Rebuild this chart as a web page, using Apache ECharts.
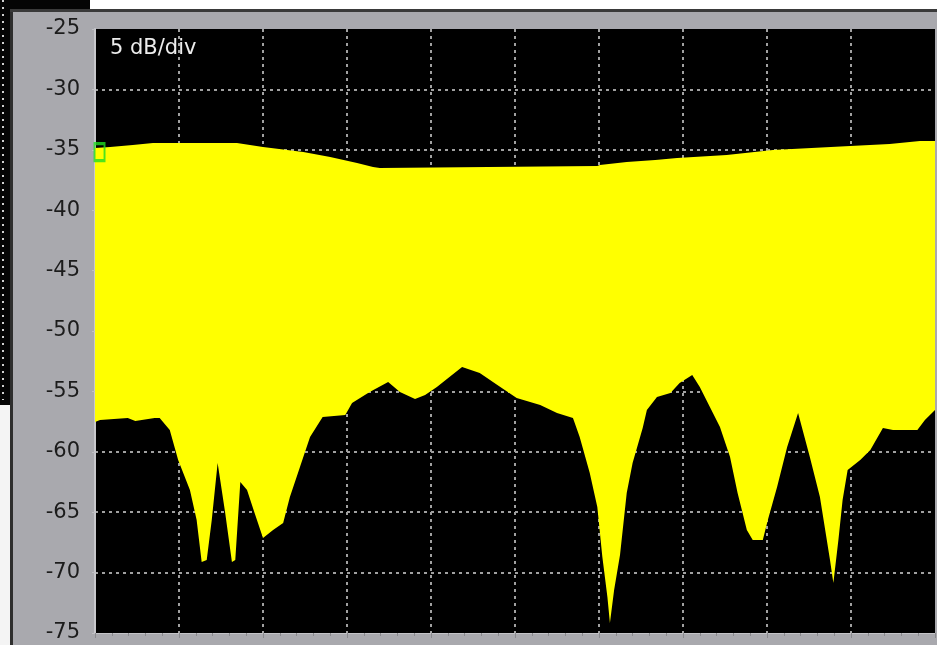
<!DOCTYPE html>
<html>
<head>
<meta charset="utf-8">
<script src="https://cdn.jsdelivr.net/npm/echarts@6/dist/echarts.min.js"></script>
<style>
	html, body { margin: 0; padding: 0; background: #a9a9ae; }
	#main { width: 937px; height: 645px; }
</style>
</head>
<body>
<div id="main"></div>
<script>
// 上包络 (max hold) - x 以格为单位 0..100 (10 格)
var upperX = [0, 1.8, 4.5, 6.9, 16.9, 20.0, 24.8, 28.0, 31.2, 33.1, 33.9, 59.8, 60.1, 63.3, 66.7, 69.3, 75.2, 80.7, 89.9, 94.6, 98.2, 100]
var upperDb = [-34.85, -34.77, -34.6, -34.44, -34.44, -34.77, -35.18, -35.6, -36.09, -36.42, -36.5, -36.34, -36.26, -36.0, -35.84, -35.68, -35.43, -35.02, -34.69, -34.52, -34.27, -34.27]

// 下包络 (min hold)
var lowerX = [0, 0.6, 3.9, 4.8, 7.1, 7.7, 8.9, 9.9, 11.3, 12.1, 12.7, 13.3, 13.9, 14.6, 15.5, 16.3, 16.7, 17.3, 18.1, 19.0, 20.0, 21.2, 22.4, 23.2, 24.4, 25.6, 27.1, 29.8, 30.6, 32.7, 34.9, 36.3, 38.1, 39.3, 40.7, 43.7, 45.8, 47.9, 50.2, 53.0, 55.0, 56.9, 57.7, 58.9, 59.8, 60.4, 61.0, 61.3, 61.8, 62.5, 63.3, 64.0, 65.2, 65.7, 66.9, 68.5, 69.6, 71.1, 72.0, 73.2, 74.4, 75.6, 76.5, 77.6, 78.3, 79.5, 80.1, 81.2, 82.4, 83.7, 85.1, 86.3, 87.5, 87.9, 88.5, 89.0, 89.6, 91.1, 92.3, 93.8, 95.0, 97.9, 98.8, 100]
var lowerDb = [-57.53, -57.36, -57.2, -57.45, -57.2, -57.2, -58.19, -60.68, -63.16, -65.65, -69.12, -68.96, -65.65, -60.93, -65.07, -69.12, -68.96, -62.5, -63.16, -65.07, -67.14, -66.47, -65.89, -63.74, -61.26, -58.77, -57.12, -56.95, -55.96, -55.05, -54.22, -55.05, -55.63, -55.3, -54.64, -52.98, -53.48, -54.47, -55.55, -56.13, -56.79, -57.2, -58.77, -61.75, -64.57, -68.71, -72.02, -74.17, -71.44, -68.54, -63.41, -60.93, -58.03, -56.54, -55.46, -55.13, -54.3, -53.64, -54.64, -56.29, -57.95, -60.43, -63.41, -66.47, -67.3, -67.3, -65.65, -62.91, -59.6, -56.79, -60.43, -63.74, -68.96, -70.86, -67.3, -63.99, -61.51, -60.68, -59.85, -58.03, -58.2, -58.2, -57.37, -56.54]

// 标记点
var markerPoint = [[0.54, -35.2]]

var chartDom = document.getElementById('main')
var chart = echarts.init(chartDom)

// 黄色带: 上包络 + 反向的下包络 组成多边形
function renderBand(params, api) {
	var pts = []
	for (var i = 0; i < upperX.length; i++) {
		pts.push(api.coord([upperX[i], upperDb[i]]))
	}
	for (var j = lowerX.length - 1; j >= 0; j--) {
		pts.push(api.coord([lowerX[j], lowerDb[j]]))
	}
	return {
		type: 'polygon',
		shape: { points: pts },
		style: { fill: '#ffff00' }
	}
}

var gridLine = {
	show: true,
	showMinLine: false,
	showMaxLine: false,
	lineStyle: { color: '#a0a0a0', width: 2, type: [3, 4] }
}

var option = {
	backgroundColor: '#a9a9ae',
	animation: false,
	title: {
		text: '5 dB/div',
		left: 105,
		top: 33,
		textStyle: {
			color: '#ececec',
			fontFamily: 'DejaVu Sans',
			fontSize: 21,
			fontWeight: 'normal'
		}
	},
	// 窗口边框
	graphic: [
		{ type: 'rect', shape: { x: 0, y: 0, width: 937, height: 9 }, style: { fill: '#ffffff' }, silent: true },
		{ type: 'rect', shape: { x: 0, y: 0, width: 90, height: 9 }, style: { fill: '#050505' }, silent: true },
		{ type: 'rect', shape: { x: 0, y: 0, width: 10, height: 405 }, style: { fill: '#050505' }, silent: true },
		{ type: 'line', shape: { x1: 3, y1: 0, x2: 3, y2: 400 }, style: { stroke: '#d0d0d0', lineWidth: 2, lineDash: [2, 5] }, silent: true },
		{ type: 'rect', shape: { x: 0, y: 405, width: 10, height: 240 }, style: { fill: '#f4f4f4' }, silent: true },
		{ type: 'rect', shape: { x: 10, y: 9, width: 3, height: 636 }, style: { fill: '#2e2e2e' }, silent: true },
		{ type: 'rect', shape: { x: 10, y: 9, width: 927, height: 3 }, style: { fill: '#3a3a3a' }, silent: true }
	],
	grid: {
		left: 95,
		right: 2,
		top: 29,
		bottom: 12,
		show: true,
		backgroundColor: '#000000',
		borderWidth: 0
	},
	xAxis: {
		type: 'value',
		min: 0,
		max: 100,
		interval: 10,
		axisLine: { show: true, lineStyle: { color: '#c4c4c8', width: 1 } },
		axisTick: { show: true, length: 5, lineStyle: { color: '#8a8a8e' } },
		minorTick: { show: true, splitNumber: 5, length: 3, lineStyle: { color: '#8a8a8e' } },
		axisLabel: { show: false },
		splitLine: gridLine
	},
	yAxis: {
		type: 'value',
		min: -75,
		max: -25,
		interval: 5,
		axisLine: { show: true, lineStyle: { color: '#c8c8cc', width: 2 } },
		axisTick: { show: true, length: 3, lineStyle: { color: '#c0c0c4' } },
		axisLabel: {
			margin: 15,
			color: '#1c1c1c',
			fontFamily: 'DejaVu Sans',
			fontSize: 21
		},
		splitLine: gridLine
	},
	series: [
		{
			type: 'custom',
			renderItem: renderBand,
			clip: true,
			silent: true,
			data: [[0, -50]],
			z: 2
		},
		{
			type: 'scatter',
			data: markerPoint,
			symbol: 'rect',
			symbolSize: [10, 17],
			itemStyle: { color: 'rgba(0,0,0,0)', borderColor: '#22dd22', borderWidth: 2.5 },
			silent: true,
			z: 5
		}
	]
}

chart.setOption(option)
</script>
</body>
</html>
